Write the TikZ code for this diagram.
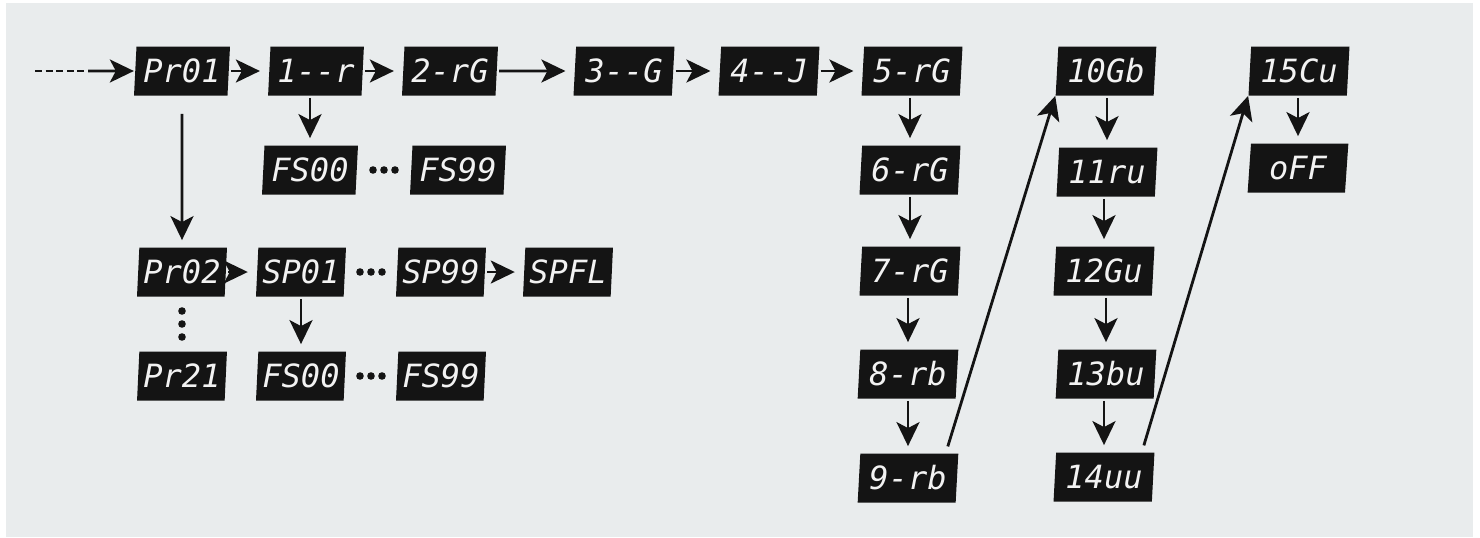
\documentclass[tikz,border=0pt]{standalone}
\usepackage{fontspec}
\newfontfamily\lcdfont{DejaVu Sans Mono}
\usepackage{tikz}
\usetikzlibrary{arrows.meta}
\usetikzlibrary{shapes.geometric}
\usetikzlibrary{calc}
\definecolor{panel}{HTML}{E9ECED}
\definecolor{lcd}{HTML}{141414}
\definecolor{seg}{HTML}{F2F2F2}
\tikzset{
  disp/.style={trapezium, trapezium left angle=85, trapezium right angle=95,
    trapezium stretches=true, fill=lcd, text=seg, inner sep=0pt,
    minimum width=48pt, minimum height=24.5pt,
    font=\lcdfont\itshape\fontsize{16}{16}\selectfont},
  narrow/.style={minimum width=45pt},
  wide/.style={minimum width=50.5pt},
  flow/.style={draw=lcd, line width=1.4pt,
    -{Stealth[length=12pt,width=11.5pt,inset=3pt]},
    shorten <=1pt, shorten >=4.5pt},
  down/.style={flow, shorten >=3.5pt},
  feed/.style={draw=lcd, line width=1.4pt, dash pattern=on 3.5pt off 1.8pt}
}

\begin{document}
\begin{tikzpicture}[x=0.5pt,y=-0.5pt]
  \useasboundingbox (0,0) rectangle (1480,537);
  \fill[white] (0,0) rectangle (1480,537);
  \fill[panel] (6,3) rectangle (1473,537);

  % main line
  \node[disp] (pr01) at (182,71) {Pr01};
  \node[disp] (st1) at (316,71) {1--r};
  \node[disp] (st2) at (450,71) {2-rG};
  \node[disp,wide] (st3) at (624,71) {3--G};
  \node[disp,wide] (st4) at (769,71) {4--J};
  \node[disp,wide] (st5) at (912,71) {5-rG};
  \node[disp] (fsA) at (310,170) {FS00};
  \node[disp] (fsB) at (458,170) {FS99};

  % program 2 .. 21
  \node[disp,narrow] (pr02) at (182,272) {Pr02};
  \node[disp,narrow] (sp01) at (301,272) {SP01};
  \node[disp,narrow] (sp99) at (441,272) {SP99};
  \node[disp,narrow] (spfl) at (568,272) {SPFL};
  \node[disp,narrow] (pr21) at (182,376) {Pr21};
  \node[disp,narrow] (fsC) at (301,376) {FS00};
  \node[disp,narrow] (fsD) at (441,376) {FS99};

  % right columns
  \node[disp,wide] (st6) at (910,170) {6-rG};
  \node[disp,wide] (st7) at (910,271) {7-rG};
  \node[disp,wide] (st8) at (908,374) {8-rb};
  \node[disp,wide] (st9) at (908,478) {9-rb};
  \node[disp,wide] (st10) at (1106,71) {10Gb};
  \node[disp,wide] (st11) at (1107,172) {11ru};
  \node[disp,wide] (st12) at (1104,271) {12Gu};
  \node[disp,wide] (st13) at (1106,374) {13bu};
  \node[disp,wide] (st14) at (1104,477) {14uu};
  \node[disp,wide] (st15) at (1299,71) {15Cu};
  \node[disp,wide] (off) at (1298,168) {oFF};

  % entry
  \coordinate (in) at (35,71);
  \coordinate (inB) at (88,71);
  \draw[feed] (in) -- (inB);
  \draw[flow, shorten <=0pt, shorten >=0.5pt] (inB) -- (pr01.west);

  \foreach \a/\b in {pr01/st1, st1/st2, st2/st3, st3/st4, st4/st5, pr02/sp01, sp99/spfl}
    \draw[flow] (\a.east) -- (\b.west);
  \foreach \a/\b in {st1/fsA, st5/st6, st6/st7, st7/st8, st8/st9, st10/st11,
                     st11/st12, st12/st13, st13/st14, st15/off, sp01/fsC}
    \draw[down] (\b.north |- \a.south) -- (\b.north);
  \draw[down, shorten <=9pt] (pr01.south) -- (pr02.north);

  \draw[flow, shorten <=3.5pt, shorten >=0pt] ([xshift=-6.5pt]st9.top right corner) -- (st10.bottom left corner);
  \draw[flow, shorten <=3.5pt, shorten >=0pt] ([xshift=-6.5pt]st14.top right corner) -- (st15.bottom left corner);

  % dots
  \coordinate (dA) at ($(fsA.east)!0.5!(fsB.west)$);
  \coordinate (dB) at ($(sp01.east)!0.5!(sp99.west)$);
  \coordinate (dC) at ($(fsC.east)!0.5!(fsD.west)$);
  \coordinate (dV) at ($(pr02.south)!0.5!(pr21.north)$);
  \foreach \c in {dA,dB,dC}
    \foreach \i in {-1,0,1}
      \fill[lcd] ($(\c)+(\i*11,0)$) circle (1.9pt);
  \foreach \i in {-1,0,1}
    \fill[lcd] ($(dV)+(0,\i*13)$) circle (1.9pt);
\end{tikzpicture}
\end{document}
